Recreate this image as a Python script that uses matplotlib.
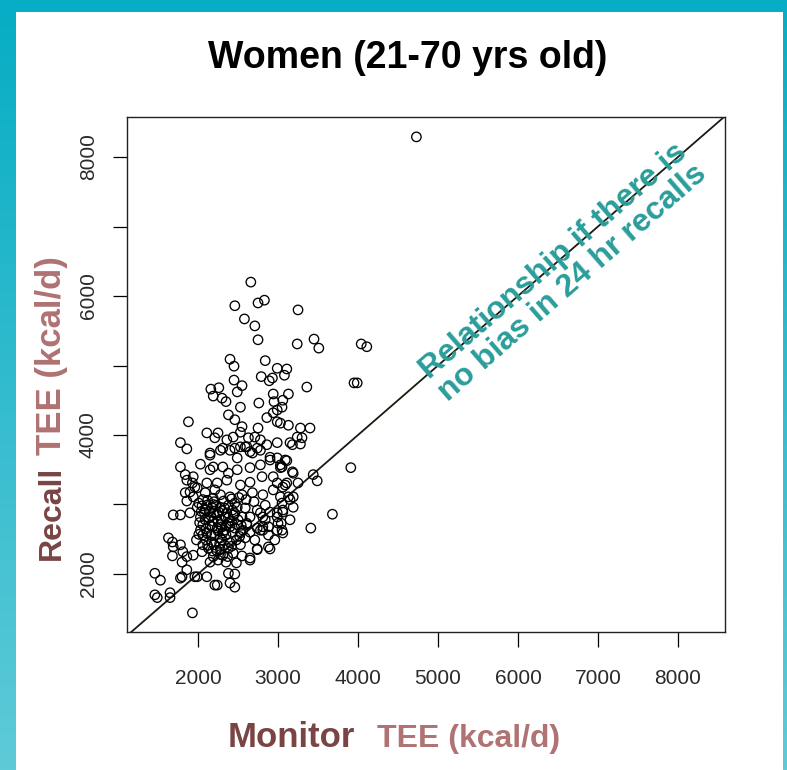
import matplotlib
matplotlib.use("Agg")
import matplotlib.pyplot as plt
import numpy as np
from matplotlib.patches import Rectangle
from matplotlib import font_manager

# monitor (doubly labelled water) TEE vs 24 hr recall TEE, kcal/d
monitor_tee = [
    4730, 2660, 2460, 2750, 2830, 3250, 2580, 2710, 2750, 3240, 3450, 3510,
    4040, 4110, 2400, 2450, 2840, 2990, 3110, 3080, 2790, 2890, 2930, 3360,
    3950, 3990, 2450, 2550, 2160, 2260, 2490, 2940, 3130, 2190, 2300, 2350,
    2530, 2760, 2950, 3060, 3050, 2990, 1880, 2380, 2460, 2550, 2530, 2860,
    2940, 2990, 3030, 3130, 3280, 3400, 3240, 3300, 3180, 3280, 2750, 2710,
    2780, 2630, 2590, 2110, 2250, 2210, 2360, 2440, 2310, 2400, 2460, 2530,
    1780, 1860, 2150, 2030, 1780, 1840, 1940, 2650, 2780, 2900, 2990, 3110,
    3180, 3030, 3090, 3050, 3190, 3110, 3060, 3440, 3490, 3910, 3680, 3410,
    3130, 3190, 3050, 3060, 3040, 3050, 1930, 1990, 1900, 1860, 1690, 1780,
    1900, 1630, 1680, 1690, 1680, 1780, 1810, 1860, 1800, 1940, 1460, 1530,
    1460, 1490, 1650, 1650, 1930, 1800, 1860, 1960, 2110, 2210, 2380, 2400,
    2460, 2650, 2740, 2880, 2900, 2990, 3000, 3090, 2990, 2740, 2810, 2840,
    2780, 2650, 2610, 2150, 2280, 2490, 2610, 2680, 2740, 2860, 2990, 3150,
    2190, 2310, 2380, 2490, 2650, 2780, 2900, 3030, 1860, 1960, 2110, 2240,
    2360, 2530, 2650, 2800, 2940, 3250, 1840, 1940, 2060, 2190, 2280, 2400,
    2550, 2680, 2810, 2940, 3030, 3150, 1990, 2090, 2180, 2280, 2380, 2490,
    2590, 2030, 2130, 2240, 2340, 2440, 2550, 2060, 2180, 2280, 2380, 2490,
    2610, 2110, 2210, 2310, 2430, 2530, 2650, 2780, 2880, 2990, 3060, 2810,
    2740, 2710, 2400, 2280, 2190, 2310, 2440, 2960, 3150, 3190, 3060, 2650,
    2150, 2990, 2810, 2740, 2460, 2240, 1990, 1780, 2010, 2110, 2200, 2300,
    2430, 2080, 2190, 2290, 2400, 2500, 2100, 2200, 2300, 2380, 2530, 2590,
    2250, 2350, 2130, 2030, 1980, 2050, 2150, 2480, 2560, 2240, 2330, 2160,
    2260, 2360, 2460, 2600, 2700, 2840, 2900, 2880, 2550, 2480, 2090, 2210,
    2050, 2140, 2230, 2320, 2120, 2020, 2100, 2250, 2160, 2060, 2280, 2350,
    2420, 2460, 2350, 2250, 2150, 2040, 2200, 2330, 2420, 2510, 2170, 2230,
    2330, 2420, 2120, 2270, 2060, 2190, 2300, 2380, 2460, 2540, 2090, 2010,
    2180, 2280, 2370, 2520,
]
recall_tee = [
    8290, 6200, 5860, 5900, 5940, 5800, 5670, 5570, 5370, 5310, 5380, 5250,
    5310, 5270, 5090, 4990, 5070, 4960, 4950, 4860, 4840, 4780, 4820, 4690,
    4750, 4750, 4790, 4710, 4660, 4680, 4620, 4590, 4590, 4560, 4530, 4480,
    4400, 4460, 4480, 4500, 4400, 4360, 4190, 4290, 4220, 4120, 4040, 4250,
    4320, 4190, 4170, 4140, 4100, 4100, 3970, 3960, 3860, 3870, 4100, 3970,
    3930, 3960, 3830, 4030, 4030, 3960, 3930, 3970, 3810, 3780, 3810, 3830,
    3890, 3800, 3710, 3580, 3540, 3430, 3400, 3760, 3780, 3680, 3670, 3630,
    3470, 3530, 3640, 3540, 3450, 3310, 3250, 3430, 3340, 3530, 2860, 2660,
    3110, 3110, 3020, 2890, 2730, 2630, 3310, 3240, 3180, 3050, 2850, 2850,
    2880, 2520, 2460, 2390, 2260, 2420, 2320, 2250, 2170, 2270, 2010, 1910,
    1700, 1660, 1730, 1660, 1440, 1960, 2060, 1960, 1960, 1840, 2010, 1870,
    1810, 2200, 2360, 2390, 2360, 2630, 2730, 3280, 3310, 2660, 2630, 2780,
    2880, 2820, 2710, 3740, 3780, 3670, 3830, 3740, 3810, 3860, 3890, 3890,
    3540, 3540, 3450, 3500, 3530, 3570, 3640, 3570, 3350, 3250, 3310, 3310,
    3350, 3280, 3320, 3400, 3400, 3310, 3170, 3110, 3070, 3090, 3140, 3110,
    3140, 3170, 3140, 3210, 3110, 3070, 2960, 2920, 2950, 2960, 2990, 2960,
    2950, 2820, 2810, 2850, 2820, 2850, 2820, 2710, 2680, 2710, 2730, 2710,
    2730, 2590, 2560, 2590, 2600, 2590, 2600, 2630, 2680, 2820, 2920, 2820,
    2920, 2490, 2450, 2350, 2250, 2270, 2300, 2490, 2780, 2960, 2590, 2230,
    3500, 2880, 2680, 2350, 2000, 1840, 1960, 1940, 3020, 2990, 3040, 2910,
    2920, 2880, 2760, 2780, 2680, 2780, 2490, 2420, 2490, 2370, 2420, 2520,
    2200, 2170, 2370, 2630, 2490, 2320, 2170, 2490, 2630, 2660, 2630, 2840,
    2890, 2880, 3020, 3070, 3040, 2990, 2890, 2560, 2260, 2160, 3170, 3210,
    2980, 2900, 2990, 3050, 3060, 2740, 2650, 2620, 2560, 2560, 2520, 2560,
    2760, 2660, 2700, 2750, 2700, 2900, 2880, 2950, 3080, 3100, 2460, 2340,
    2420, 2400, 2410, 2440, 2420, 3000, 2680, 2810, 2870, 2700, 2780, 2570,
    2330, 2280, 2250, 2540,
]

x_ticks = [2000, 3000, 4000, 5000, 6000, 7000, 8000]
y_ticks = [2000, 3000, 4000, 5000, 6000, 7000, 8000]
y_tick_labels = ["2000", "", "4000", "", "6000", "", "8000"]

title = "Women (21-70 yrs old)"
note = "Relationship if there is\nno bias in 24 hr recalls"

installed = {f.name for f in font_manager.fontManager.ttflist}
sans = "Liberation Sans" if "Liberation Sans" in installed else "DejaVu Sans"
narrow = "Liberation Sans Narrow" if "Liberation Sans Narrow" in installed else sans
plt.rcParams["font.family"] = [sans, "DejaVu Sans"]

fig = plt.figure(figsize=(7.87, 7.70), dpi=100)

# teal slide frame with white panel
bg = fig.add_axes([0, 0, 1, 1], zorder=-10)
bg.axis("off")
top_col = np.array([0x06, 0xAD, 0xC4]) / 255
bot_col = np.array([0x5E, 0xCA, 0xD8]) / 255
t = np.linspace(0, 1, 256)[:, None, None]
grad = top_col * (1 - t) + bot_col * t
bg.imshow(np.repeat(grad, 2, axis=1), aspect="auto", extent=[0, 1, 0, 1])
bg.add_patch(Rectangle((16 / 787, 0), (783 - 16) / 787, 1 - 12 / 770,
                       facecolor="white", edgecolor="none"))
bg.set_xlim(0, 1)
bg.set_ylim(0, 1)

ax = fig.add_axes([127 / 787, 138 / 770, 598 / 787, 515 / 770])
ax.scatter(monitor_tee, recall_tee, s=46, facecolors="none",
           edgecolors="black", linewidths=0.95, zorder=3)
ax.axline((0, 0), (1, 1), color="#1a1a10", lw=1.3, zorder=2)

ax.set_xlim(1112, 8588)
ax.set_ylim(1165, 8576)
ax.set_xticks(x_ticks)
ax.set_xticklabels([str(v) for v in x_ticks], fontsize=15, color="#2a2a2a")
ax.set_yticks(y_ticks)
ax.set_yticklabels(y_tick_labels, rotation=90, va="center", fontsize=15,
                   color="#2a2a2a", family=[narrow, "DejaVu Sans"])
ax.tick_params(axis="x", direction="out", length=11, width=0.9, pad=16)
ax.tick_params(axis="y", direction="out", length=10, width=0.9, pad=11)
for sp in ax.spines.values():
    sp.set_linewidth(1.0)
    sp.set_color("#222222")

fig.text(0.518, 1 - 68 / 770, title, ha="center", va="baseline",
         fontsize=27, fontweight="bold", color="black")

# axis labels, two tones
fig.text(228 / 787, 1 - 747 / 770, "Monitor", ha="left", va="baseline",
         fontsize=25, fontweight="bold", color="#7a4444")
fig.text(377 / 787, 1 - 747 / 770, "TEE (kcal/d)", ha="left", va="baseline",
         fontsize=23, fontweight="bold", color="#b07272")
fig.text(52 / 787, 1 - 560 / 770, "Recall", rotation=90, ha="center",
         va="bottom", fontsize=23, fontweight="bold", color="#7a4444")
fig.text(52 / 787, 1 - 455 / 770, "TEE (kcal/d)", rotation=90, ha="center",
         va="bottom", fontsize=25, fontweight="bold", color="#b07272")

fig.text(563 / 787, 1 - 272 / 770, note, rotation=41, rotation_mode="anchor",
         ha="center", va="center", multialignment="center",
         fontsize=23, fontweight="bold", color="#2a9d9a", linespacing=1.0)

fig.savefig("out.png", dpi=100)
